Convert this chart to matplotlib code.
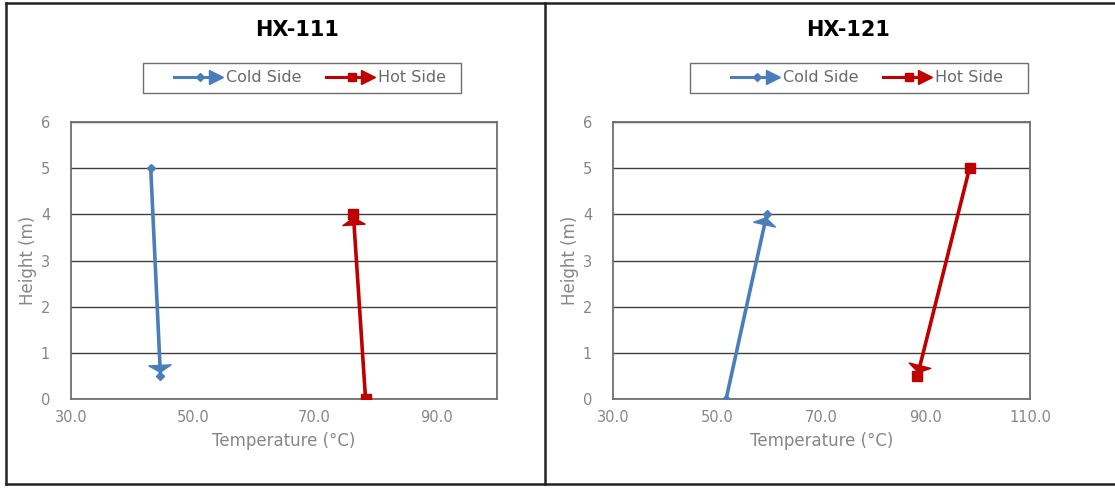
import matplotlib
matplotlib.use("Agg")
import matplotlib.pyplot as plt
from matplotlib.lines import Line2D
from matplotlib.patches import Rectangle
from matplotlib.legend_handler import HandlerBase

plt.rcParams["font.family"] = ["DejaVu Sans"]

# exchanger profiles: temperature (°C) vs height (m), flow direction first -> last
titles = ["HX-111", "HX-121"]
cold_temp = [[43.1, 44.7], [51.7, 59.5]]
cold_height = [[5, 0.5], [0, 4]]
hot_temp = [[78.4, 76.4], [98.4, 88.4]]
hot_height = [[0, 4], [5, 0.5]]
x_limits = [(30, 100), (30, 110)]
x_ticks = [[30, 50, 70, 90], [30, 50, 70, 90, 110]]
y_ticks = [0, 1, 2, 3, 4, 5, 6]
series_names = ["Cold Side", "Hot Side"]

COLD = "#4a7ebb"
HOT = "#c00000"
GREY = "#868686"
W, H = 1115, 490


class ArrowHandler(HandlerBase):
    # legend key: line, series marker, arrow head at the right end
    def create_artists(self, legend, orig, xd, yd, width, height, fontsize, trans):
        y = height / 2 - yd
        c = orig.get_color()
        line = Line2D([-xd, width - xd - 4], [y, y], color=c, lw=2.2)
        mark = Line2D([width * 0.55 - xd], [y], marker=orig.get_marker(), ms=orig.get_markersize(),
                      color=c, lw=0)
        head = Line2D([width - xd - 4], [y], marker=">", ms=10, color=c, lw=0)
        for a in (line, mark, head):
            a.set_transform(trans)
        return [line, mark, head]


def fx(px):
    return px / W


def fy(py):
    return 1 - py / H


fig = plt.figure(figsize=(W / 100, H / 100), dpi=100)

axes_px = [(71, 122, 497, 399), (613, 122, 1030, 399)]
title_x = [297, 848]
legend_box = [(143, 63, 461, 93), (690, 63, 1028, 93)]

for i in range(2):
    x0, y0, x1, y1 = axes_px[i]
    ax = fig.add_axes([fx(x0), fy(y1), fx(x1 - x0), (y1 - y0) / H])

    ax.plot(cold_temp[i], cold_height[i], color=COLD, lw=2.6, marker="D", ms=4, zorder=3)
    ax.plot(hot_temp[i], hot_height[i], color=HOT, lw=2.6, marker="s", ms=7, zorder=3)
    for t, h, c in ((cold_temp[i], cold_height[i], COLD), (hot_temp[i], hot_height[i], HOT)):
        ax.annotate("", xy=(t[-1], h[-1]), xytext=(t[-2], h[-2]),
                    arrowprops=dict(arrowstyle="-|>,head_length=0.5,head_width=0.8",
                                    color=c, lw=1.0, shrinkA=0, shrinkB=2),
                    zorder=4)

    ax.set_xlim(*x_limits[i])
    ax.set_ylim(0, 6)
    ax.set_xticks(x_ticks[i])
    ax.set_xticklabels([f"{v:.1f}" for v in x_ticks[i]])
    ax.set_yticks(y_ticks)
    ax.tick_params(length=0, labelsize=10.5, labelcolor=GREY)
    ax.tick_params(axis="x", pad=8)
    ax.tick_params(axis="y", pad=15)
    ax.grid(axis="y", color="#3f3f3f", lw=1.0)
    ax.set_axisbelow(True)
    for s in ax.spines.values():
        s.set_color("#6f6f6f")
        s.set_linewidth(1.3)
    ax.set_xlabel("Temperature (°C)", fontsize=12, color=GREY, labelpad=5)
    ax.set_ylabel("Height (m)", fontsize=12, color=GREY, labelpad=3)

    fig.text(fx(title_x[i]), fy(30), titles[i], ha="center", va="center",
             fontsize=15, fontweight="bold", color="black")

    bx0, by0, bx1, by1 = legend_box[i]
    fig.patches.append(Rectangle((fx(bx0), fy(by1)), fx(bx1 - bx0), (by1 - by0) / H,
                                 transform=fig.transFigure, fill=False,
                                 edgecolor="#6f6f6f", lw=1.0))
    handles = [Line2D([], [], color=COLD, marker="D", ms=4),
               Line2D([], [], color=HOT, marker="s", ms=6)]
    fig.legend(handles, series_names, loc="center",
               bbox_to_anchor=(fx((bx0 + bx1) / 2 + 8), fy((by0 + by1) / 2)),
               ncol=2, frameon=False, fontsize=11.5, labelcolor="#6a6a6a",
               handlelength=3.0, handletextpad=0.3, columnspacing=1.5,
               handler_map={Line2D: ArrowHandler()})

# panel frames
for xs, ys in (((6, 1115), (3, 3)), ((6, 1115), (484, 484)),
               ((6, 6), (3, 484)), ((545, 545), (3, 484))):
    fig.add_artist(Line2D([fx(x) for x in xs], [fy(y) for y in ys],
                          transform=fig.transFigure, color="#222222", lw=1.8))

fig.savefig("out.png", dpi=100)
